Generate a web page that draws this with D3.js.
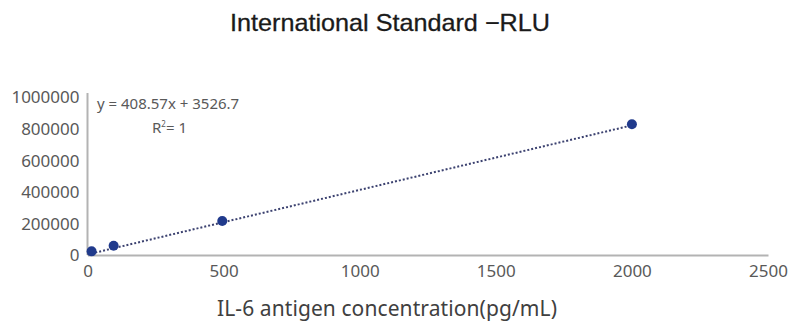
<!DOCTYPE html>
<html>
<head>
<meta charset="utf-8">
<script src="https://cdn.jsdelivr.net/npm/d3@7"></script>
<style>
  body { margin: 0; background: #fff; }
  svg { display: block; }
</style>
</head>
<body>
<svg id="chart" width="788" height="324"></svg>
<script>
// data
const concentrations = [15, 96, 495, 2000];
const rlu = [23000, 59000, 215000, 827000];
const xTicks = [0, 500, 1000, 1500, 2000, 2500];
const yTicks = [0, 200000, 400000, 600000, 800000, 1000000];
const slope = 408.57;
const intercept = 3526.7;

const svg = d3.select('#chart');

const x = d3.scaleLinear().domain([0, 2500]).range([87.5, 768]);
const y = d3.scaleLinear().domain([0, 1000000]).range([255, 97]);

// title
svg.append('text')
  .attr('x', 390).attr('y', 31)
  .attr('text-anchor', 'middle')
  .attr('font-family', 'Liberation Sans, Arial, sans-serif')
  .attr('font-size', 24)
  .attr('textLength', 320)
  .attr('lengthAdjust', 'spacingAndGlyphs')
  .attr('stroke', '#1a1a1a').attr('stroke-width', 0.3)
  .attr('fill', '#1a1a1a')
  .text('International Standard −RLU');

// axes
const xAxis = svg.append('g')
  .attr('transform', `translate(0,${y(0)})`)
  .call(d3.axisBottom(x).tickValues(xTicks).tickSize(0).tickPadding(10).tickFormat(d3.format('d')));
const yAxis = svg.append('g')
  .attr('transform', `translate(${x(0)},0)`)
  .call(d3.axisLeft(y).tickValues(yTicks).tickSize(0).tickPadding(8).tickFormat(d3.format('d')));

[xAxis, yAxis].forEach(g => {
  g.select('.domain').attr('stroke', '#b3b3b3').attr('stroke-width', 2);
  g.selectAll('text')
    .attr('font-family', 'Noto Sans, sans-serif')
    .attr('font-size', 17)
    .attr('fill', '#595959');
});
yAxis.select('.domain').attr('d', `M0,${y(1000000) - 4}V${y(0)}`);
yAxis.selectAll('text').attr('dy', '0.35em');

// trendline
svg.append('line')
  .attr('x1', x(0)).attr('y1', y(intercept))
  .attr('x2', x(2000)).attr('y2', y(slope * 2000 + intercept))
  .attr('stroke', '#3c4270')
  .attr('stroke-width', 2)
  .attr('stroke-dasharray', '2,2');

// points
svg.append('g')
  .selectAll('circle')
  .data(concentrations.map((c, i) => [c, rlu[i]]))
  .join('circle')
  .attr('cx', d => x(d[0]))
  .attr('cy', d => y(d[1]))
  .attr('r', 5)
  .attr('fill', '#203a8c');

// equation
svg.append('text')
  .attr('x', 97).attr('y', 109)
  .attr('font-family', 'Noto Sans, sans-serif')
  .attr('font-size', 15)
  .attr('fill', '#595959')
  .text(`y = ${slope}x + ${intercept}`);
const r2 = svg.append('text')
  .attr('x', 152).attr('y', 133)
  .attr('font-family', 'Noto Sans, sans-serif')
  .attr('font-size', 15)
  .attr('fill', '#595959');
r2.append('tspan').text('R');
r2.append('tspan').attr('font-size', 8).attr('dy', -6).text('2');
r2.append('tspan').attr('dy', 6).text('= 1');

// axis title
svg.append('text')
  .attr('x', 387).attr('y', 316)
  .attr('text-anchor', 'middle')
  .attr('font-family', 'Noto Sans, sans-serif')
  .attr('font-size', 21)
  .attr('textLength', 340)
  .attr('lengthAdjust', 'spacing')
  .attr('fill', '#404040')
  .text('IL-6 antigen concentration(pg/mL)');
</script>
</body>
</html>
